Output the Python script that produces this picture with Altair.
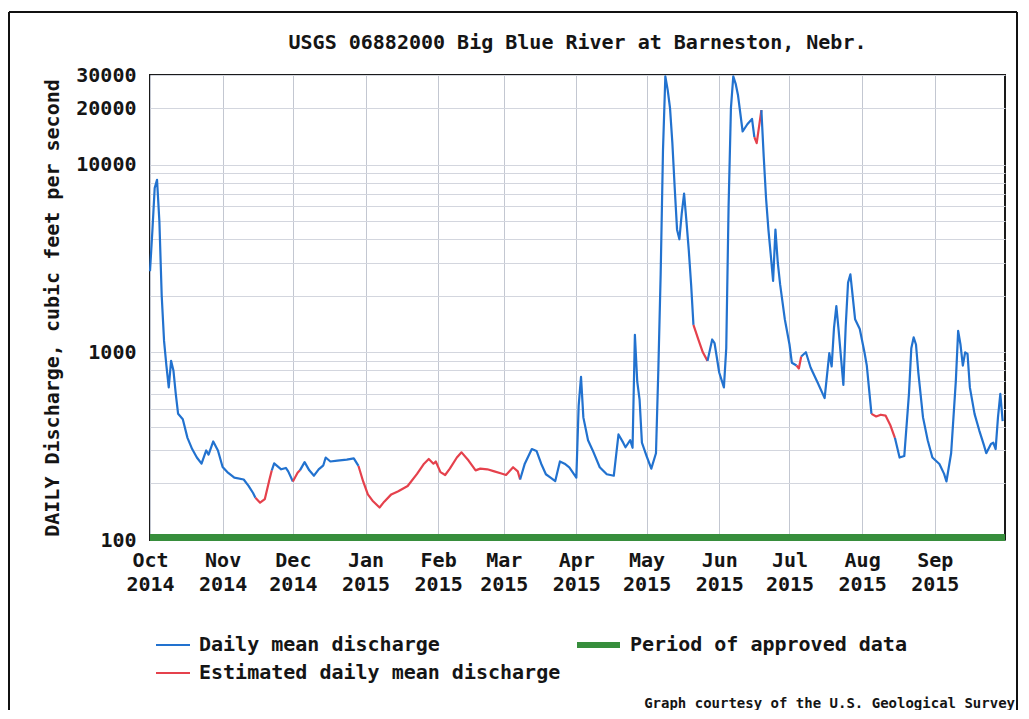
import altair as alt
import pandas as pd

# ---------------- data ----------------
dates = [
    "2014-10-01", "2014-10-02", "2014-10-03", "2014-10-04", "2014-10-05", "2014-10-06",
    "2014-10-07", "2014-10-08", "2014-10-09", "2014-10-10", "2014-10-11", "2014-10-12",
    "2014-10-13", "2014-10-15", "2014-10-17", "2014-10-19", "2014-10-21", "2014-10-23",
    "2014-10-25", "2014-10-26", "2014-10-28", "2014-10-30",
    "2014-11-01", "2014-11-03", "2014-11-06", "2014-11-10", "2014-11-12", "2014-11-14",
    "2014-11-15", "2014-11-17", "2014-11-19", "2014-11-21", "2014-11-22", "2014-11-23",
    "2014-11-26", "2014-11-28", "2014-11-29",
    "2014-12-01", "2014-12-03", "2014-12-04", "2014-12-06", "2014-12-08", "2014-12-10",
    "2014-12-12", "2014-12-14", "2014-12-15", "2014-12-17", "2014-12-20", "2014-12-24",
    "2014-12-27", "2014-12-29", "2014-12-31",
    "2015-01-02", "2015-01-04", "2015-01-07", "2015-01-09", "2015-01-12", "2015-01-15",
    "2015-01-19", "2015-01-23", "2015-01-26", "2015-01-28", "2015-01-30", "2015-01-31",
    "2015-02-02", "2015-02-04", "2015-02-06", "2015-02-09", "2015-02-11", "2015-02-14",
    "2015-02-17", "2015-02-19", "2015-02-22", "2015-02-25", "2015-02-28",
    "2015-03-02", "2015-03-05", "2015-03-07", "2015-03-08", "2015-03-10", "2015-03-13",
    "2015-03-15", "2015-03-17", "2015-03-19", "2015-03-21", "2015-03-23", "2015-03-25",
    "2015-03-27", "2015-03-29",
    "2015-04-01", "2015-04-02", "2015-04-03", "2015-04-04", "2015-04-06", "2015-04-08",
    "2015-04-11", "2015-04-14", "2015-04-17", "2015-04-19", "2015-04-21", "2015-04-22",
    "2015-04-24", "2015-04-25", "2015-04-26", "2015-04-27", "2015-04-28", "2015-04-29",
    "2015-05-01", "2015-05-03", "2015-05-05", "2015-05-06", "2015-05-07", "2015-05-08",
    "2015-05-09", "2015-05-10", "2015-05-11", "2015-05-12", "2015-05-13", "2015-05-14",
    "2015-05-15", "2015-05-16", "2015-05-17", "2015-05-18", "2015-05-19", "2015-05-20",
    "2015-05-21", "2015-05-23", "2015-05-25", "2015-05-27", "2015-05-29", "2015-05-30",
    "2015-06-01", "2015-06-03", "2015-06-04", "2015-06-05", "2015-06-06", "2015-06-07",
    "2015-06-08", "2015-06-09", "2015-06-11", "2015-06-13", "2015-06-15", "2015-06-16",
    "2015-06-17", "2015-06-19", "2015-06-20", "2015-06-21", "2015-06-22", "2015-06-23",
    "2015-06-24", "2015-06-25", "2015-06-26", "2015-06-27", "2015-06-29",
    "2015-07-01", "2015-07-02", "2015-07-04", "2015-07-05", "2015-07-06", "2015-07-08",
    "2015-07-10", "2015-07-13", "2015-07-16", "2015-07-18", "2015-07-19", "2015-07-20",
    "2015-07-21", "2015-07-22", "2015-07-24", "2015-07-25", "2015-07-26", "2015-07-27",
    "2015-07-29", "2015-07-31",
    "2015-08-02", "2015-08-03", "2015-08-05", "2015-08-07", "2015-08-09", "2015-08-11",
    "2015-08-13", "2015-08-15", "2015-08-17", "2015-08-19", "2015-08-21", "2015-08-22",
    "2015-08-23", "2015-08-24", "2015-08-25", "2015-08-27", "2015-08-29", "2015-08-31",
    "2015-09-03", "2015-09-05", "2015-09-06", "2015-09-08", "2015-09-09", "2015-09-10",
    "2015-09-11", "2015-09-12", "2015-09-13", "2015-09-14", "2015-09-15", "2015-09-16",
    "2015-09-18", "2015-09-20", "2015-09-22", "2015-09-23", "2015-09-25", "2015-09-26",
    "2015-09-27", "2015-09-28", "2015-09-29", "2015-09-30",
]

discharge = [
    2700, 4400, 7500, 8300, 5000, 2000,
    1150, 850, 650, 900, 800, 600,
    470, 440, 350, 305, 275, 255,
    300, 285, 335, 300,
    245, 230, 215, 210, 195, 178,
    168, 158, 165, 210, 235, 256,
    238, 242, 232,
    205, 228, 235, 260, 235, 220,
    238, 250, 275, 262, 265, 268,
    272, 248, 205,
    175, 162, 149, 160, 175, 182,
    194, 225, 255, 270, 255, 262,
    230, 222, 240, 275, 293, 265,
    235, 240, 238, 232, 226,
    222, 244, 232, 210, 255, 305,
    298, 255, 224, 215, 206, 262,
    255, 244,
    215, 520, 740, 450, 340, 300,
    244, 224, 220, 365, 330, 312,
    340, 310, 1240, 700, 560, 330,
    280, 240, 290, 800, 2600, 12000,
    29500, 25000, 20000, 13000, 7500, 4500,
    4000, 5500, 7000, 5000, 3500, 2300,
    1400, 1180, 1000, 900, 1170, 1120,
    780, 650, 1050, 6000, 20000, 29500,
    27000, 23500, 15000, 16400, 17500, 14000,
    13000, 19500, 11000, 6600, 4500, 3300,
    2400, 4500, 3000, 2300, 1500,
    1100, 880, 850, 820, 950, 1000,
    830, 690, 570, 990, 840, 1350,
    1760, 1300, 670, 1380, 2350, 2600,
    1500, 1330,
    1000, 850, 470, 455, 465, 460,
    410, 350, 275, 280, 600, 1050,
    1200, 1100, 780, 450, 340, 275,
    254, 225, 205, 290, 450, 700,
    1300, 1100, 850, 1000, 980, 650,
    470, 384, 320, 290, 325, 330,
    305, 450, 600, 430,
]

estimated_starts = ["2014-11-15", "2014-12-01", "2014-12-29", "2015-05-21",
                    "2015-06-16", "2015-07-04", "2015-08-05"]
estimated_ends = ["2014-11-22", "2014-12-04", "2015-03-08", "2015-05-27",
                  "2015-06-19", "2015-07-06", "2015-08-15"]

approved_start = ["2014-10-01"]
approved_end = ["2015-10-01"]

month_starts = ["2014-10-01", "2014-11-01", "2014-12-01", "2015-01-01", "2015-02-01",
                "2015-03-01", "2015-04-01", "2015-05-01", "2015-06-01", "2015-07-01",
                "2015-08-01", "2015-09-01"]

y_grid_values = [100, 200, 300, 400, 500, 600, 700, 800, 900,
                 1000, 2000, 3000, 4000, 5000, 6000, 7000, 8000, 9000,
                 10000, 20000, 30000]
y_label_values = [100, 1000, 10000, 20000, 30000]

series_labels = ["Daily mean discharge", "Estimated daily mean discharge"]
approved_label = "Period of approved data"
credit_text = "Graph courtesy of the U.S. Geological Survey"
title_text = "USGS 06882000 Big Blue River at Barneston, Nebr."
y_title = "DAILY Discharge, cubic feet per second"

# ---------------- build line segments ----------------
BLUE = "#2272cf"
RED = "#e5414c"
GREEN = "#378e3c"
INK = "#151515"
FONT = "DejaVu Sans Mono"

ts = pd.to_datetime(pd.Series(dates))
est_ranges = [(pd.Timestamp(a), pd.Timestamp(b)) for a, b in zip(estimated_starts, estimated_ends)]


def in_est(t):
    return any(a <= t <= b for a, b in est_ranges)


rows = []
seg = 0
prev = None
for i in range(len(dates) - 1):
    status = series_labels[1] if (in_est(ts[i]) and in_est(ts[i + 1])) else series_labels[0]
    if status != prev:
        seg += 1
        rows.append({"date": dates[i], "value": discharge[i], "status": status, "seg": seg})
        prev = status
    rows.append({"date": dates[i + 1], "value": discharge[i + 1], "status": status, "seg": seg})
line_df = pd.DataFrame(rows)

W, H = 855, 465


def dt(s):
    y, m, d = (int(p) for p in s.split("-"))
    return alt.DateTime(year=y, month=m, date=d, utc=True)


x_scale = alt.Scale(type="utc", domain=[dt(approved_start[0]), dt(approved_end[0])])
y_scale = alt.Scale(type="log", domain=[100, 30000])

x_axis = alt.Axis(
    values=[dt(m) for m in month_starts],
    labelExpr="[utcFormat(datum.value, '%b'), utcFormat(datum.value, '%Y')]",
    grid=True, gridColor="#c3c7d1", gridWidth=1,
    ticks=False, domain=False, title=None,
    labelFont=FONT, labelFontWeight="bold", labelFontSize=20, labelColor=INK,
    labelPadding=10, labelLineHeight=24, labelAlign="center", labelBaseline="top",
    labelFlush=False, labelOverlap=False, labelBound=False,
)

y_axis = alt.Axis(
    values=y_grid_values, format="d",
    labelExpr="indexof(%s, datum.value) >= 0 ? datum.label : ''" % str(y_label_values),
    grid=True, gridColor="#d3d6de", gridWidth=1,
    ticks=False, domain=False,
    labelFont=FONT, labelFontWeight="bold", labelFontSize=20, labelColor=INK,
    labelPadding=14, labelFlush=False, labelOverlap=False, labelBound=False,
    title=y_title, titleFont=FONT, titleFontWeight="bold", titleFontSize=20,
    titleColor=INK, titleX=-98, titleY=H / 2, titleAngle=270,
    titleAlign="center", titleBaseline="middle",
)

lines = alt.Chart(line_df).mark_line(strokeWidth=2.2, strokeJoin="round").encode(
    x=alt.X("date:T", scale=x_scale, axis=x_axis),
    y=alt.Y("value:Q", scale=y_scale, axis=y_axis),
    color=alt.Color("status:N", scale=alt.Scale(domain=series_labels, range=[BLUE, RED]), legend=None),
    detail="seg:N",
)

approved_df = pd.DataFrame({"start": approved_start, "end": approved_end})
approved = alt.Chart(approved_df).mark_rect(color=GREEN).encode(
    x=alt.X("start:T", scale=x_scale),
    x2="end:T",
    y=alt.value(H - 6),
    y2=alt.value(H + 1),
)

one = pd.DataFrame({"k": [0]})

# chart title (as a text mark, centred over the plot)
title = alt.Chart(one).mark_text(
    text=title_text, font=FONT, fontWeight="bold", fontSize=20, color=INK,
    align="center", baseline="middle").encode(x=alt.value(W / 2), y=alt.value(-32))

# manual legend (below the plot)
leg_blue = alt.Chart(one).mark_rule(color=BLUE, strokeWidth=2).encode(
    x=alt.value(6), x2=alt.value(40), y=alt.value(570))
leg_red = alt.Chart(one).mark_rule(color=RED, strokeWidth=2).encode(
    x=alt.value(6), x2=alt.value(40), y=alt.value(598))
leg_green = alt.Chart(one).mark_rule(color=GREEN, strokeWidth=6).encode(
    x=alt.value(427), x2=alt.value(470), y=alt.value(570))

text_style = dict(font=FONT, fontWeight="bold", fontSize=20, color=INK,
                  align="left", baseline="middle")
leg_t1 = alt.Chart(one).mark_text(text=series_labels[0], **text_style).encode(
    x=alt.value(49), y=alt.value(570))
leg_t2 = alt.Chart(one).mark_text(text=series_labels[1], **text_style).encode(
    x=alt.value(49), y=alt.value(598))
leg_t3 = alt.Chart(one).mark_text(text=approved_label, **text_style).encode(
    x=alt.value(480), y=alt.value(570))
credit = alt.Chart(one).mark_text(
    text=credit_text, font=FONT, fontWeight="bold", fontSize=14, color=INK,
    align="right", baseline="middle").encode(x=alt.value(865), y=alt.value(629))

# outer page frame
frame_top = alt.Chart(one).mark_rule(color="#111", strokeWidth=2).encode(
    x=alt.value(-141), x2=alt.value(867), y=alt.value(-63))
frame_left = alt.Chart(one).mark_rule(color="#111", strokeWidth=2).encode(
    x=alt.value(-141), y=alt.value(-63), y2=alt.value(700))
frame_right = alt.Chart(one).mark_rule(color="#111", strokeWidth=2).encode(
    x=alt.value(867), y=alt.value(-63), y2=alt.value(700))

chart = alt.layer(
    lines, approved, title,
    leg_blue, leg_red, leg_green, leg_t1, leg_t2, leg_t3, credit,
    frame_top, frame_left, frame_right,
).properties(
    width=W, height=H,
    autosize=alt.AutoSizeParams(type="none"),
    padding={"left": 142, "top": 67, "right": 16, "bottom": 170},
    background="white",
).configure_view(
    stroke="#1a1a1a", strokeWidth=2,
)

chart.save("out.html", embed_options={"renderer": "svg", "actions": False})
